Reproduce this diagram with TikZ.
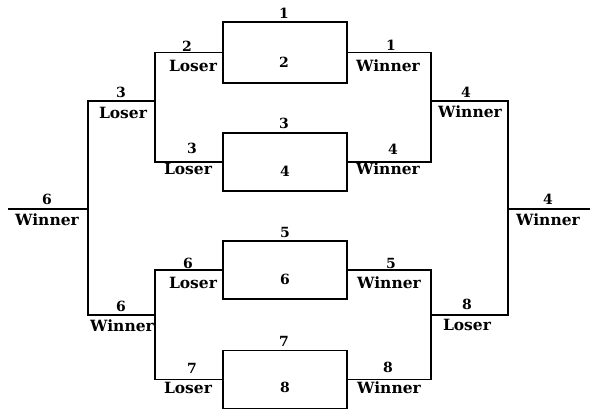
\documentclass[tikz,border=0pt]{standalone}
\usepackage{fontspec}
\setmainfont{DejaVu Serif}
\begin{document}
\begin{tikzpicture}[x=1pt,y=-1pt,
  line width=1.8pt,
  game/.style={draw,rectangle,minimum width=124pt,minimum height=58pt,inner sep=0pt},
  word/.style={font=\bfseries\fontsize{15.5}{15.5}\selectfont,inner sep=0pt},
  num/.style={font=\bfseries\fontsize{14}{14}\selectfont,inner sep=0pt}]
\useasboundingbox (0,0) rectangle (595,409);
% game boxes
\node[game,minimum height=61pt] (b1) at (285,52.5) {};
\node[game] (b2) at (285,162) {};
\node[game] (b3) at (285,270) {};
\node[game] (b4) at (285,379.5) {};
% box labels
\node[num] (t1) at (284,13) {1};
\node[num] (n2) at (284,62) {2};
\node[num] (t3) at (284,123) {3};
\node[num] (n4) at (285,171) {4};
\node[num] (t5) at (285,232) {5};
\node[num] (n6) at (285,279) {6};
\node[num] (t7) at (284,341) {7};
\node[num] (n8) at (285,387) {8};
% junction coordinates
\coordinate (la) at (156,101);
\coordinate (lb) at (156,315);
\coordinate (lc) at (88,209);
\coordinate (le) at (8,209);
\coordinate (ra) at (430,101);
\coordinate (rb) at (430,315);
\coordinate (rc) at (508,209);
\coordinate (re) at (590,209);
% left brackets
\draw (b1.west) -- ++(-67,0) |- (b2.west);
\draw (b3.west) -- ++(-67,0) |- (b4.west);
\draw (la) -- (88,101) -- (88,315) -- (lb);
\draw (lc) -- (le);
% right brackets
\draw (b1.east) -- ++(83,0) |- (b2.east);
\draw (b3.east) -- ++(83,0) |- (b4.east);
\draw (ra) -- (508,101) -- (508,315) -- (rb);
\draw (rc) -- (re);
% left labels
\node[num] (l1n) at (187,46) {2};
\node[word] (l1w) at (193,66) {Loser};
\node[num] (l2n) at (192,148) {3};
\node[word] (l2w) at (188,169) {Loser};
\node[num] (l3n) at (188,263) {6};
\node[word] (l3w) at (193,283) {Loser};
\node[num] (l4n) at (192,368) {7};
\node[word] (l4w) at (188,388) {Loser};
\node[num] (m1n) at (121,92) {3};
\node[word] (m1w) at (123,113) {Loser};
\node[num] (m2n) at (121,306) {6};
\node[word] (m2w) at (122,326) {Winner};
\node[num] (f1n) at (47,199) {6};
\node[word] (f1w) at (47,220) {Winner};
% right labels
\node[num] (r1n) at (391,45) {1};
\node[word] (r1w) at (388,66) {Winner};
\node[num] (r2n) at (393,149) {4};
\node[word] (r2w) at (388,169) {Winner};
\node[num] (r3n) at (391,263) {5};
\node[word] (r3w) at (389,283) {Winner};
\node[num] (r4n) at (388,367) {8};
\node[word] (r4w) at (389,388) {Winner};
\node[num] (s1n) at (466,92) {4};
\node[word] (s1w) at (470,112) {Winner};
\node[num] (s2n) at (467,304) {8};
\node[word] (s2w) at (467,325) {Loser};
\node[num] (g1n) at (548,199) {4};
\node[word] (g1w) at (548,220) {Winner};
\end{tikzpicture}
\end{document}
